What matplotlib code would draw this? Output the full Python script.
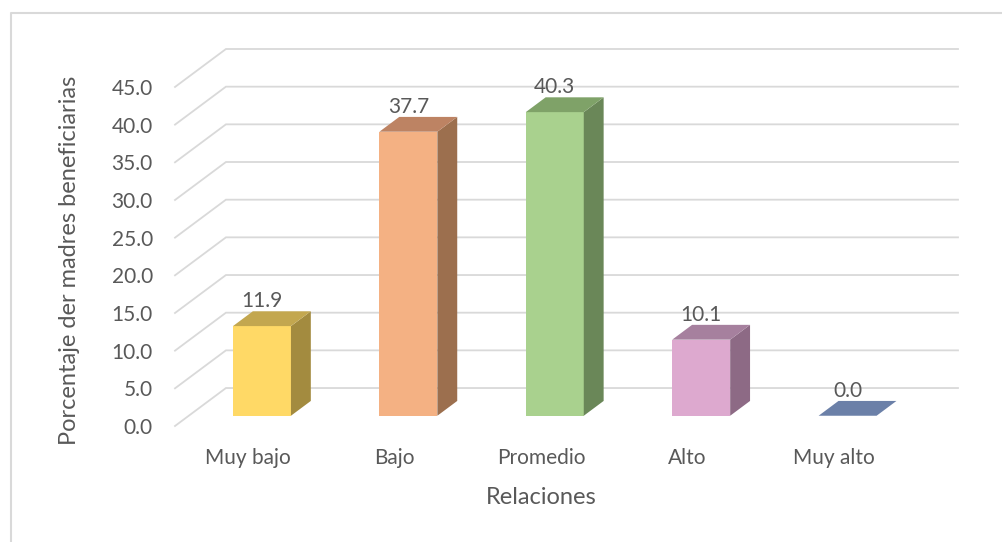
import matplotlib.pyplot as plt
from matplotlib.patches import Polygon
from matplotlib.lines import Line2D

# data
categories = ["Muy bajo", "Bajo", "Promedio", "Alto", "Muy alto"]
values = [11.9, 37.7, 40.3, 10.1, 0.0]
y_ticks = [0, 5, 10, 15, 20, 25, 30, 35, 40, 45]
front_colors = ["#FFD966", "#F4B183", "#A9D18E", "#DDA9CF", "#8EA9DB"]
side_colors = ["#A38B3F", "#9C6F4E", "#6A8758", "#8D6A85", "#5A6E94"]
top_colors = ["#C3A74F", "#BD8363", "#7FA268", "#A6809E", "#6B80A8"]

plt.rcParams['font.family'] = ['Lato', 'DejaVu Sans']
TXT = "#595959"
GRID = "#D9D9D9"

# oblique projection: depth 0 = front, depth 1 = back wall
KX = 0.348   # category units per full depth
KY = 5.04    # value units per full depth
D0, D1 = 0.27, 0.66
HW = 0.198


def proj(x, v, d):
    return (x + d * KX, v + d * KY)


fig = plt.figure(figsize=(10.03, 5.42), dpi=100)
ax = fig.add_axes([175 / 1003, 1 - 426 / 542, 783 / 1003, 377 / 542])
ax.set_xlim(-0.5, 4.5 + KX)
ax.set_ylim(0, 45 + KY)
for s in ax.spines.values():
    s.set_visible(False)

# walls: diagonals on the left side wall and gridlines on the back wall
x_left = -0.5
x_right = len(categories) - 0.5
for t in y_ticks:
    p0 = proj(x_left, t, 0)
    p1 = proj(x_left, t, 1)
    p2 = proj(x_right, t, 1)
    ax.plot([p0[0], p1[0], p2[0]], [p0[1], p1[1], p2[1]], color=GRID,
            lw=1.3, zorder=1, clip_on=False, solid_joinstyle='miter')

# bars
for i, v in enumerate(values):
    xl, xr = i - HW, i + HW
    if v > 0:
        front = [proj(xl, 0, D0), proj(xr, 0, D0), proj(xr, v, D0), proj(xl, v, D0)]
        side = [proj(xr, 0, D0), proj(xr, 0, D1), proj(xr, v, D1), proj(xr, v, D0)]
        ax.add_patch(Polygon(front, closed=True, fc=front_colors[i], ec='none', zorder=3))
        ax.add_patch(Polygon(side, closed=True, fc=side_colors[i], ec='none', zorder=3))
    top = [proj(xl, v, D0), proj(xr, v, D0), proj(xr, v, D1), proj(xl, v, D1)]
    ax.add_patch(Polygon(top, closed=True, fc=top_colors[i], ec='none', zorder=3,
                         clip_on=False))
    ly = proj(i, v, D1)[1]
    lx = proj(i, v, D0)[0]
    ax.annotate(f"{v:.1f}", (lx, ly), xytext=(0, 0), textcoords='offset points',
                ha='center', va='bottom', fontsize=15, color=TXT, zorder=4)

ax.set_yticks(y_ticks)
ax.set_yticklabels([f"{t:.1f}" for t in y_ticks])
ax.set_xticks(range(len(categories)))
ax.set_xticklabels(categories)
ax.tick_params(axis='y', length=0, pad=16, labelsize=15, labelcolor=TXT)
ax.tick_params(axis='x', length=0, pad=16, labelsize=15, labelcolor=TXT)

ax.set_xlabel("Relaciones", fontsize=17, color=TXT)
ax.xaxis.label.set_va('center')
ax.xaxis.set_label_coords((541 - 175) / 783, -(497 - 426) / 377)
ax.set_ylabel("Porcentaje der madres beneficiarias", fontsize=17, color=TXT)
ax.yaxis.label.set_va('center')
ax.yaxis.set_label_coords((70 - 175) / 783, (426 - 260) / 377)

# chart border (left and top edges visible)
fig.add_artist(Line2D([11 / 1003, 11 / 1003, 1.0], [0.0, 1 - 13 / 542, 1 - 13 / 542],
                      color=GRID, lw=1.5, transform=fig.transFigure))

fig.savefig("out.png", dpi=100)
